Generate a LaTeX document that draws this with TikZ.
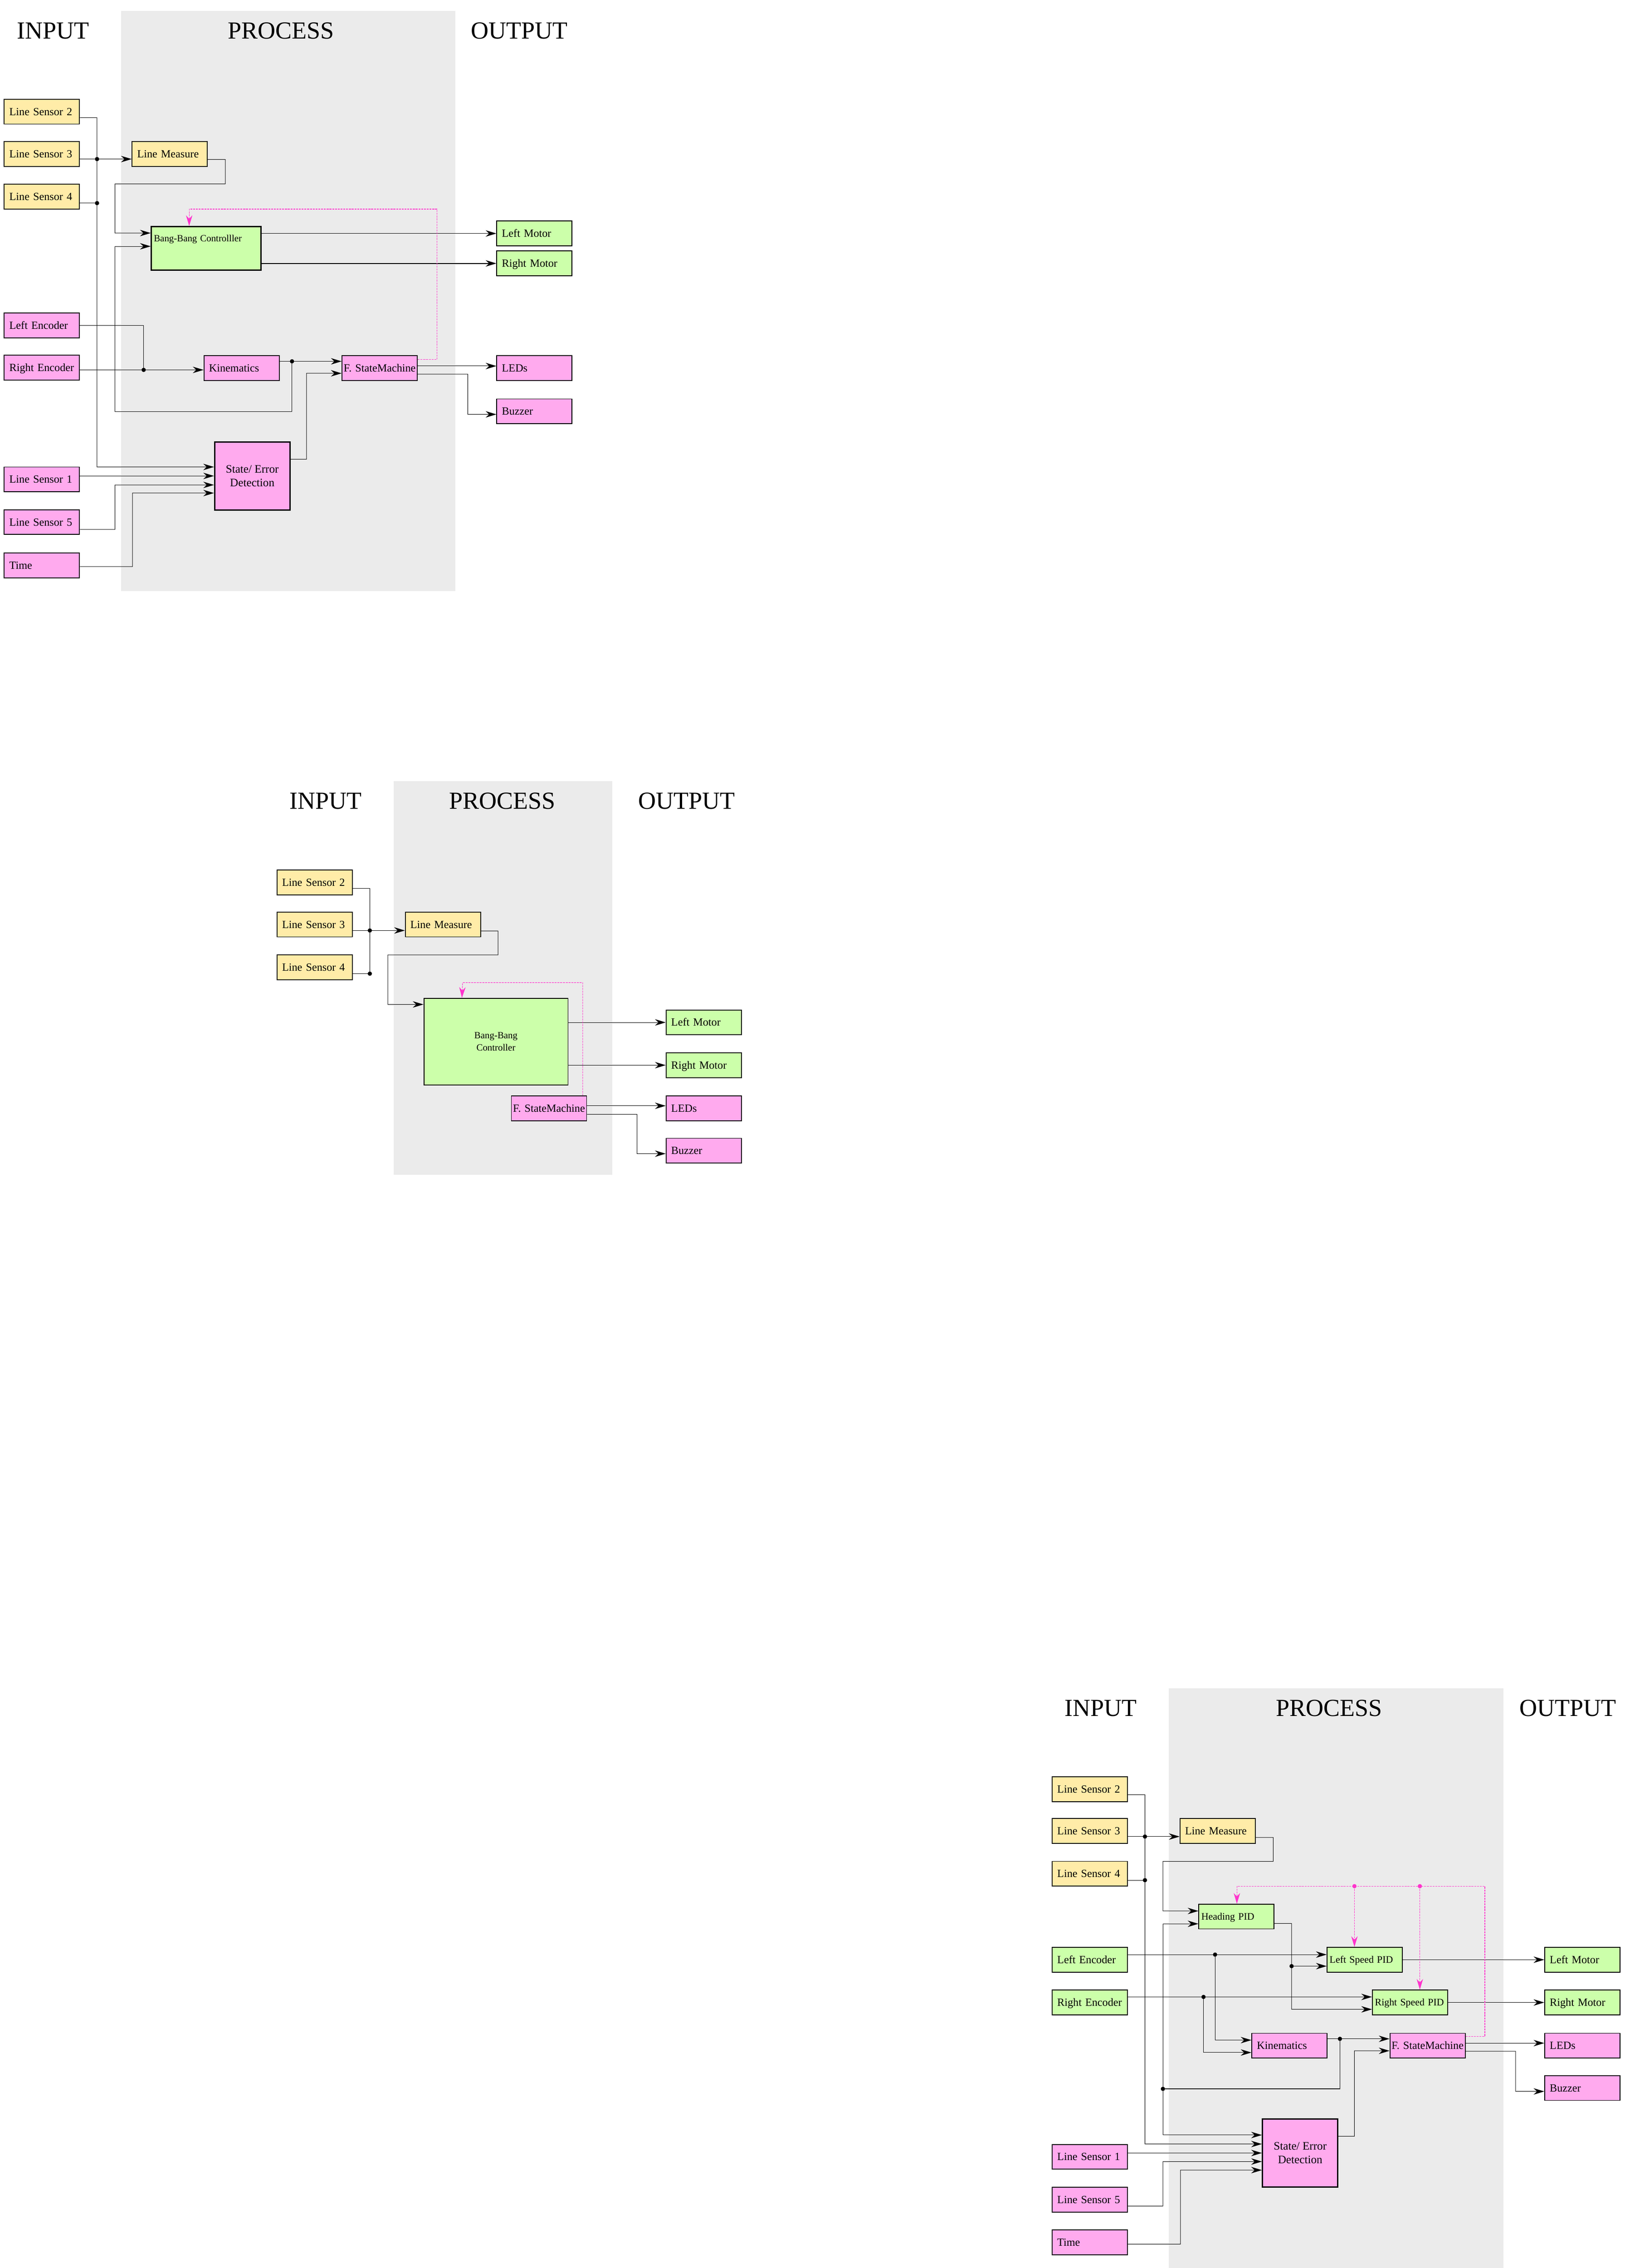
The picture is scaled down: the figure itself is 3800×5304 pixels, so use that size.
\documentclass[tikz,border=0pt]{standalone}
\usepackage{fontspec}
\setmainfont{Liberation Serif}
\usetikzlibrary{arrows.meta}
\definecolor{lineyellow}{RGB}{255,236,168}
\definecolor{ctrlgreen}{RGB}{204,255,170}
\definecolor{statepink}{RGB}{255,170,238}
\definecolor{panelgray}{RGB}{235,235,235}
\definecolor{loopmagenta}{RGB}{255,51,204}

\tikzset{
  blk/.style={draw, line width=0.55pt, minimum width=1.76cm, minimum height=0.58cm,
    inner xsep=0.12cm, inner ysep=0pt, text width=1.52cm, align=left,
    text height=4.8pt, text depth=0pt, font=\fontsize{7.3}{8.5}\selectfont},
  ylw/.style={blk, fill=lineyellow},
  grn/.style={blk, fill=ctrlgreen},
  pnk/.style={blk, fill=statepink},
  pid/.style={grn, inner xsep=0.06cm, text width=1.64cm, text height=4.4pt, font=\fontsize{6.6}{8}\selectfont},
  fsm/.style={pnk, inner xsep=0.01cm, text width=1.74cm, align=center},
  bbtop/.style={draw, fill=ctrlgreen, line width=0.85pt, minimum width=2.56cm, minimum height=1.02cm,
    inner xsep=0.06cm, inner ysep=0.1cm, text width=2.44cm, align=left,
    text height=0.25cm, text depth=0.57cm, font=\fontsize{6.3}{7.5}\selectfont},
  bbmid/.style={draw, fill=ctrlgreen, line width=0.55pt, minimum width=3.37cm, minimum height=2.03cm,
    align=center, font=\fontsize{6.3}{8.1}\selectfont},
  sebox/.style={draw, fill=statepink, line width=0.85pt, minimum width=1.76cm, minimum height=1.59cm,
    align=center, font=\fontsize{7.6}{8.9}\selectfont},
  ttl/.style={font=\fontsize{16.3}{19}\selectfont},
  arr/.style={-{Stealth[length=0.25cm, width=0.15cm]}},
  fb/.style={loopmagenta, line width=0.35pt, dash pattern=on 0.045cm off 0.02cm,
    -{Stealth[length=0.25cm, width=0.15cm]}}
}

\begin{document}
\begin{tikzpicture}[x=0.01cm, y=-0.01cm, line width=0.3pt]
  \useasboundingbox (0,0) rectangle (3800,5304);

  % ---------- Bang-Bang controller, full ----------
  \begin{scope}[name prefix=a-]
    % Process panel and titles
    \fill[panelgray] (283,25) rectangle (1065,1382);
    \node[ttl] (tin) at (124,72) {INPUT};
    \node[ttl] (tpr) at (657,72) {PROCESS};
    \node[ttl] (tout) at (1215,72) {OUTPUT};

    % Inputs
    \node[ylw] (ls2) at (98,261) {Line Sensor 2};
    \node[ylw] (ls3) at (98,360) {Line Sensor 3};
    \node[ylw] (ls4) at (98,460) {Line Sensor 4};
    \node[pnk] (lenc) at (98,761) {Left Encoder};
    \node[pnk] (renc) at (98,860) {Right Encoder};
    \node[pnk] (ls1) at (98,1121) {Line Sensor 1};
    \node[pnk] (ls5) at (98,1221) {Line Sensor 5};
    \node[pnk] (time) at (98,1322) {Time};

    % Process blocks
    \node[ylw] (lm) at (397,360) {Line Measure};
    \node[bbtop] (bb) at (482,581) {Bang-Bang Controlller};
    \node[pnk] (kin) at (565,861) {Kinematics};
    \node[fsm] (fsm) at (888,861) {F. StateMachine};
    \node[sebox] (se) at (590,1113) {State/ Error\\Detection};

    % Outputs
    \node[grn] (lmot) at (1250,546) {Left Motor};
    \node[grn] (rmot) at (1250,616) {Right Motor};
    \node[pnk] (leds) at (1250,861) {LEDs};
    \node[pnk] (buz) at (1250,962) {Buzzer};

    % Junctions
    \coordinate (j3) at (227,372);
    \coordinate (j4) at (227,475);
    \coordinate (jk) at (683,845);
    \coordinate (je) at (336,865);

    % Connectors
    \draw[arr] ([yshift=-0.14cm]ls2.east) -| (227,1092) -- ([yshift=0.21cm]se.west);
    \draw[arr] (ls3.east |- j3) -- (lm.west |- j3);
    \draw (ls4.east |- j4) -- (j4);
    \draw[arr] ([yshift=-0.13cm]lm.east) -| (527,430) -| (269,545) -- ([yshift=0.36cm]bb.west);
    \draw[arr] ([yshift=0.16cm]kin.east) -- ([yshift=0.16cm]fsm.west);
    \draw[arr] (jk) |- (269,963) |- ([yshift=0.05cm]bb.west);
    \draw (lenc.east) -| (je);
    \draw[arr] (renc.east |- je) -- (kin.west |- je);
    \draw[arr] ([yshift=0.39cm]se.east) -| (717,873) -- ([yshift=-0.12cm]fsm.west);
    \draw[arr] (bb.east |- lmot.west) -- (lmot.west);
    \draw[arr, line width=0.5pt] (bb.east |- rmot.west) -- (rmot.west);
    \draw[arr] ([yshift=0.05cm]fsm.east) -- ([yshift=0.05cm]leds.west);
    \draw[arr] ([yshift=-0.14cm]fsm.east) -| (1094,969) -- ([yshift=-0.07cm]buz.west);
    \draw[arr] (ls1.east |- se.west) -- (se.west);
    \draw[arr] ([yshift=-0.17cm]ls5.east) -| (269,1134) -- ([yshift=-0.21cm]se.west);
    \draw[arr] ([yshift=-0.03cm]time.east) -| (310,1153) -- ([yshift=-0.4cm]se.west);
    \draw[fb] ([yshift=0.2cm]fsm.east) -| (1022,489) -| ([xshift=0.9cm]bb.north west);
    \foreach \j in {j3,j4,jk,je} \fill (\j) circle (0.05cm);
  \end{scope}

  % ---------- Bang-Bang controller, reduced ----------
  \begin{scope}[shift={(638,1802)}, name prefix=b-]
    \fill[panelgray] (283,25) rectangle (794,945);
    \node[ttl] (tin) at (124,71) {INPUT};
    \node[ttl] (tpr) at (537,71) {PROCESS};
    \node[ttl] (tout) at (968,71) {OUTPUT};

    % Inputs
    \node[ylw] (ls2) at (98,262) {Line Sensor 2};
    \node[ylw] (ls3) at (98,360) {Line Sensor 3};
    \node[ylw] (ls4) at (98,460) {Line Sensor 4};

    % Process blocks
    \node[ylw] (lm) at (398,360) {Line Measure};
    \node[bbmid] (bb) at (522,634) {Bang-Bang\\Controller};
    \node[fsm] (fsm) at (646,790) {F. StateMachine};

    % Outputs
    \node[grn] (lmot) at (1008,589) {Left Motor};
    \node[grn] (rmot) at (1008,689) {Right Motor};
    \node[pnk] (leds) at (1008,790) {LEDs};
    \node[pnk] (buz) at (1008,889) {Buzzer};

    \coordinate (j3) at (227,374);
    \coordinate (j4) at (227,475);

    % Connectors
    \draw ([yshift=-0.13cm]ls2.east) -| (j4) -- (ls4.east |- j4);
    \draw[arr] (ls3.east |- j3) -- (lm.west |- j3);
    \draw[arr] ([yshift=-0.15cm]lm.east) -| (527,431) -| (269,547) -- ([yshift=0.87cm]bb.west);
    \draw[arr] (bb.east |- lmot.west) -- (lmot.west);
    \draw[arr] (bb.east |- rmot.west) -- (rmot.west);
    \draw[arr] ([yshift=0.06cm]fsm.east) -- ([yshift=0.06cm]leds.west);
    \draw[arr] ([yshift=-0.14cm]fsm.east) -| (852,896) -- ([yshift=-0.07cm]buz.west);
    \draw[fb] ([xshift=-0.1cm]fsm.north east) |- (444,496) -- ([xshift=0.9cm]bb.north west);
    \foreach \j in {j3,j4} \fill (\j) circle (0.05cm);
  \end{scope}

  % ---------- PID controller ----------
  \begin{scope}[shift={(2451,3923)}, name prefix=c-]
    \fill[panelgray] (283,25) rectangle (1066,1381);
    \node[ttl] (tin) at (124,72) {INPUT};
    \node[ttl] (tpr) at (658,72) {PROCESS};
    \node[ttl] (tout) at (1216,72) {OUTPUT};

    % Inputs
    \node[ylw] (ls2) at (98,261) {Line Sensor 2};
    \node[ylw] (ls3) at (98,359) {Line Sensor 3};
    \node[ylw] (ls4) at (98,459) {Line Sensor 4};
    \node[grn] (lenc) at (98,660) {Left Encoder};
    \node[grn] (renc) at (98,760) {Right Encoder};
    \node[pnk] (ls1) at (98,1121) {Line Sensor 1};
    \node[pnk] (ls5) at (98,1221) {Line Sensor 5};
    \node[pnk] (time) at (98,1321) {Time};

    % Process blocks
    \node[ylw] (lm) at (397,359) {Line Measure};
    \node[pid] (hpid) at (441,559) {Heading PID};
    \node[pid] (lspid) at (741,660) {Left Speed PID};
    \node[pid] (rspid) at (847,760) {Right Speed PID};
    \node[pnk] (kin) at (565,861) {Kinematics};
    \node[fsm] (fsm) at (888,861) {F. StateMachine};
    \node[sebox] (se) at (590,1112) {State/ Error\\Detection};

    % Outputs
    \node[grn] (lmot) at (1250,660) {Left Motor};
    \node[grn] (rmot) at (1250,760) {Right Motor};
    \node[pnk] (leds) at (1250,861) {LEDs};
    \node[pnk] (buz) at (1250,960) {Buzzer};

    % Junctions
    \coordinate (j3) at (227,372);
    \coordinate (j4) at (227,474);
    \coordinate (jl) at (391,648);
    \coordinate (jr) at (364,747);
    \coordinate (jh) at (570,675);
    \coordinate (jk) at (683,845);
    \coordinate (jb) at (269,962);
    \coordinate (m1) at (717,488);
    \coordinate (m2) at (870,488);

    % Connectors
    \draw[arr] ([yshift=-0.13cm]ls2.east) -| (227,1091) -- ([yshift=0.21cm]se.west);
    \draw[arr] (ls3.east |- j3) -- (lm.west |- j3);
    \draw (ls4.east |- j4) -- (j4);
    \draw[arr] ([yshift=-0.15cm]lm.east) -| (527,430) -| (269,546) -- ([yshift=0.13cm]hpid.west);
    \draw[arr] (jb) |- ([yshift=-0.17cm]hpid.west);
    \draw[arr] (jb) |- ([yshift=0.42cm]se.west);
    \draw[arr] ([yshift=0.16cm]kin.east) -- ([yshift=0.16cm]fsm.west);
    \draw[line width=0.5pt] (jk) |- (jb);
    \draw[arr] ([yshift=-0.16cm]hpid.east) -| (570,776) -- ([yshift=-0.16cm]rspid.west);
    \draw[arr] (jh) -- (lspid.west |- jh);
    \draw[arr] (lenc.east |- jl) -- (lspid.west |- jl);
    \draw[arr] (jl) |- ([yshift=0.13cm]kin.west);
    \draw[arr, line width=0.5pt] (renc.east |- jr) -- (rspid.west |- jr);
    \draw[arr] (jr) |- ([yshift=-0.16cm]kin.west);
    \draw[arr] (lspid.east) -- (lmot.west);
    \draw[arr] (rspid.east) -- (rmot.west);
    \draw[arr] ([yshift=0.06cm]fsm.east) -- ([yshift=0.06cm]leds.west);
    \draw[arr] ([yshift=-0.13cm]fsm.east) -| (1094,968) -- ([yshift=-0.08cm]buz.west);
    \draw[arr] ([yshift=0.39cm]se.east) -| (717,873) -- ([yshift=-0.12cm]fsm.west);
    \draw[arr] (ls1.east |- se.west) -- (se.west);
    \draw[arr] ([yshift=-0.15cm]ls5.east) -| (269,1132) -- ([yshift=-0.2cm]se.west);
    \draw[arr] ([yshift=-0.04cm]time.east) -| (310,1152) -- ([yshift=-0.4cm]se.west);
    \draw[fb] ([yshift=0.22cm]fsm.east) -| (1022,488) -| ([xshift=0.9cm]hpid.north west);
    \draw[fb] (m1) -- (lspid.north -| m1);
    \draw[fb] (m2) -- (rspid.north -| m2);
    \foreach \j in {j3,j4,jl,jr,jh,jk,jb} \fill (\j) circle (0.05cm);
    \foreach \j in {m1,m2} \fill[loopmagenta] (\j) circle (0.05cm);
  \end{scope}
\end{tikzpicture}
\end{document}
